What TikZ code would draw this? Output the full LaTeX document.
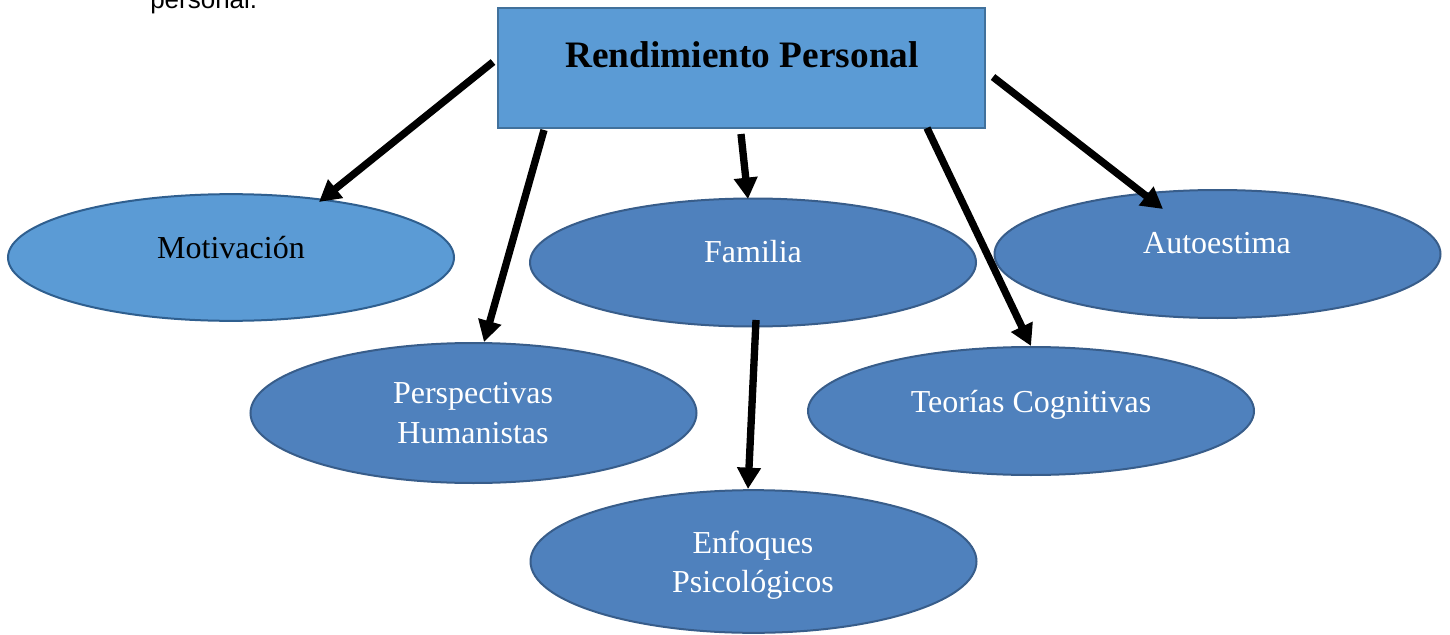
\documentclass[tikz,border=0pt]{standalone}
\usepackage{fontspec}
\setmainfont{Liberation Serif}
\newfontfamily\arialfont{Liberation Sans}
\usetikzlibrary{shapes.geometric,arrows.meta}
\definecolor{boxfill}{HTML}{5B9BD5}
\definecolor{boxline}{HTML}{41719C}
\definecolor{ellfill}{HTML}{4F81BD}
\definecolor{ellline}{HTML}{385D8A}
\definecolor{motline}{HTML}{2F5F8F}
\tikzset{
  ell/.style={ellipse, draw=ellline, fill=ellfill, line width=1.5pt, inner sep=0pt,
              minimum width=334.5pt, minimum height=96pt},
  lbl/.style={anchor=base, inner sep=0pt, font=\fontsize{24}{30}\selectfont, text=white},
  conn/.style={line width=5.5pt, -{Triangle[length=16pt,width=17pt]}},
}
\begin{document}
\begin{tikzpicture}[x=0.75pt,y=-0.75pt]
\useasboundingbox (0,0) rectangle (1450,635);
\clip (0,0) rectangle (1450,635);
\fill[white] (0,0) rectangle (1450,635);
% cropped caption line
\node[anchor=base west, inner sep=0pt, font=\arialfont\fontsize{19.5}{22}\selectfont] (cap) at (150,9) {personal.};
% top box
\node[draw=boxline, fill=boxfill, line width=1.5pt, minimum width=365pt, minimum height=90pt, inner sep=0pt] (rp) at (741.5,68) {};
\node[anchor=base, inner sep=0pt, font=\bfseries\fontsize{28}{34}\selectfont] (rpt) at (742,68) {Rendimiento Personal};
% ellipses
\node[ell, fill=boxfill, draw=motline, minimum height=95pt] (mot) at (231,257.5) {};
\node[lbl, text=black] (mott) at (231,258) {Motivación};
\node[ell] (fam) at (753,262.5) {};
\node[lbl] (famt) at (753,262) {Familia};
\node[ell] (aut) at (1217.5,254) {};
\node[lbl] (autt) at (1217,253) {Autoestima};
\node[ell, minimum height=105pt] (per) at (473.5,413) {};
\node[lbl] (pert1) at (473,403) {Perspectivas};
\node[lbl] (pert2) at (473,443) {Humanistas};
\node[ell] (teo) at (1031,411) {};
\node[lbl] (teot) at (1031,412) {Teorías Cognitivas};
\node[ell, minimum height=107pt] (enf) at (753.5,561.5) {};
\node[lbl] (enft1) at (753,553) {Enfoques};
\node[lbl] (enft2) at (753,592) {Psicológicos};
% connector end points
\coordinate (s1) at (493,62);   \coordinate (e1) at (319,202);
\coordinate (s2) at (544,130);  \coordinate (e2) at (484,342);
\coordinate (s3) at (741,134);  \coordinate (e3) at (748,199);
\coordinate (s4) at (756,320);  \coordinate (e4) at (748,489);
\coordinate (s5) at (927,128);  \coordinate (e5) at (1031,346);
\coordinate (s6) at (993,77);   \coordinate (e6) at (1163,209);
\draw[conn] (s1) -- (e1);
\draw[conn] (s2) -- (e2);
\draw[conn] (s3) -- (e3);
\draw[conn] (s4) -- (e4);
\draw[conn] (s5) -- (e5);
\draw[conn] (s6) -- (e6);
\end{tikzpicture}
\end{document}
